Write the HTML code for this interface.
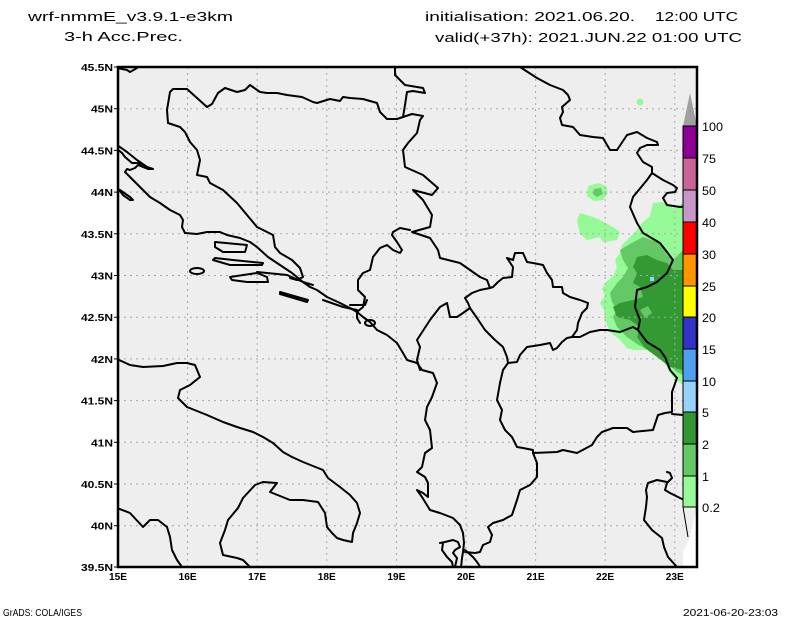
<!DOCTYPE html>
<html><head><meta charset="utf-8"><style>
html,body{margin:0;padding:0;background:#fff;}
svg{display:block;}
text{font-family:"Liberation Sans",sans-serif;fill:#000;}
</style></head><body>
<svg width="800" height="618" viewBox="0 0 800 618" xmlns="http://www.w3.org/2000/svg">
<defs><clipPath id="mc"><rect x="118" y="67" width="579" height="500"/></clipPath></defs>
<rect width="800" height="618" fill="#fff"/>
<!-- titles -->
<text x="28" y="21" font-size="13" textLength="205" lengthAdjust="spacingAndGlyphs">wrf-nmmE_v3.9.1-e3km</text>
<text x="64" y="41" font-size="13" textLength="119" lengthAdjust="spacingAndGlyphs">3-h Acc.Prec.</text>
<text x="425" y="21" font-size="13" textLength="210" lengthAdjust="spacingAndGlyphs">initialisation: 2021.06.20.</text>
<text x="655" y="21" font-size="13" textLength="83" lengthAdjust="spacingAndGlyphs">12:00 UTC</text>
<text x="435" y="42" font-size="13" textLength="307" lengthAdjust="spacingAndGlyphs">valid(+37h): 2021.JUN.22 01:00 UTC</text>

<!-- map bg -->
<rect x="118" y="67" width="579" height="500" fill="#eeeeee"/>
<g clip-path="url(#mc)">
<!-- precipitation -->
<g stroke="none">
<circle cx="640" cy="102" r="3.5" fill="#96fa96"/>
<path fill="#96fa96" d="M588,186 L598,183 L606,186 L608,193 L603,200 L594,201 L587,196 Z"/>
<path fill="#64c864" d="M594,189 L601,188 L603,194 L597,197 L593,194 Z"/>
<path fill="#96fa96" d="M577,220 L580,213 L593,217 L600,220 L613,227 L620,232 L617,240 L603,242 L600,237 L587,240 L580,234 Z"/>
<path fill="#96fa96" d="M653,203 L663,202 L673,208 L683,203 L683,385 L673,377 L667,367 L660,357 L647,350 L633,350 L627,348 L620,340 L610,332 L605,320 L604,310 L600,303 L605,296 L602,289 L606,282 L613,276 L617,268 L615,260 L620,253 L622,245 L630,237 L637,230 L643,222 L650,216 Z"/>
<path fill="#64c864" d="M620,250 L630,244 L643,237 L660,243 L667,255 L673,260 L683,250 L683,375 L677,372 L663,360 L650,351 L637,344 L627,337 L617,327 L613,317 L617,310 L612,302 L610,293 L617,283 L623,277 L628,268 L623,260 Z"/>
<path fill="#339933" d="M633,267 L637,257 L647,255 L657,260 L667,263 L673,270 L683,270 L683,370 L670,367 L657,357 L645,348 L637,337 L640,327 L630,320 L617,317 L613,307 L620,303 L633,300 L643,297 L640,287 L633,283 L637,273 Z"/>
<path fill="#64c864" d="M640,310 L648,306 L652,313 L645,318 Z"/>
<rect x="650" y="277" width="4" height="4" fill="#96d2fa"/>
</g>
<!-- grid -->
<g stroke="#a8a8a8" stroke-width="1" stroke-dasharray="2,4">
<line x1="187.6" y1="67" x2="187.6" y2="567"/>
<line x1="257.2" y1="67" x2="257.2" y2="567"/>
<line x1="326.8" y1="67" x2="326.8" y2="567"/>
<line x1="396.4" y1="67" x2="396.4" y2="567"/>
<line x1="466" y1="67" x2="466" y2="567"/>
<line x1="535.6" y1="67" x2="535.6" y2="567"/>
<line x1="605.2" y1="67" x2="605.2" y2="567"/>
<line x1="674.8" y1="67" x2="674.8" y2="567"/>
<line x1="118" y1="108.7" x2="697" y2="108.7"/>
<line x1="118" y1="150.4" x2="697" y2="150.4"/>
<line x1="118" y1="192.1" x2="697" y2="192.1"/>
<line x1="118" y1="233.8" x2="697" y2="233.8"/>
<line x1="118" y1="275.5" x2="697" y2="275.5"/>
<line x1="118" y1="317.2" x2="697" y2="317.2"/>
<line x1="118" y1="358.9" x2="697" y2="358.9"/>
<line x1="118" y1="400.6" x2="697" y2="400.6"/>
<line x1="118" y1="442.3" x2="697" y2="442.3"/>
<line x1="118" y1="484" x2="697" y2="484"/>
<line x1="118" y1="525.7" x2="697" y2="525.7"/>
</g>
<!-- borders & coasts -->
<g fill="none" stroke="#000" stroke-width="2" stroke-linejoin="round" stroke-linecap="round">
<polyline points="117,68 127,70 130,72 137,68"/>
<polyline points="168,123 167,110 170,92 173,89 187,89 197,98 207,107 212,104 218,93 225,88 237,92 245,90 250,85 260,92 267,93 277,93 287,95 302,97 313,102 317,103 330,99 340,101 343,97 350,98 363,99 377,103 380,112 387,119 397,119 403,117 412,114 423,116 420,120 417,133 408,143 403,150 405,167 423,175 438,188 432,195 413,190 423,200 432,215 430,227 412,232 430,238 438,250 440,258 460,263 470,270 480,277 487,280 490,288 480,290 472,293 465,298 468,303 470,308 463,313 457,317 450,317 447,303 440,307 430,320 417,340 420,347 417,360 420,370"/>
<polyline points="403,117 405,105 407,92 413,91 425,93 423,88 405,85 395,75 395,67"/>
<polyline points="470,308 477,318 485,330 495,340 503,347 507,357 508,363 503,370 500,383 497,400 502,410 500,420 505,430 512,437 517,447 523,448 533,450 533,453 537,463 537,477 530,485 520,490 517,500 512,515 503,520 493,523 488,527 492,535 490,542 483,545 480,552 475,553 465,552"/>
<polyline points="465,550 473,557 477,562 481,568"/>
<polyline points="490,288 493,287 498,282 503,278 512,277 513,267 507,258 513,260 515,253 523,253 527,262 533,263 543,265 547,273 552,280 553,287 562,287 563,293 570,297 580,300 588,303 587,308 582,313 578,323 577,330 572,337"/>
<polyline points="508,363 517,362 520,355 527,347 540,345 550,343 553,350 557,348 562,342 567,338 572,337 580,337 590,332 600,330 607,330 620,332 633,327 638,330"/>
<polyline points="520,67 537,78 550,85 563,90 568,95 570,100 562,107 563,112 560,118 562,125 573,127 580,135 593,137 603,138 610,150 617,150 627,135 637,132 647,138 657,142 658,145 647,145 640,148 637,153 643,162 652,167 652,173 663,180 673,185 677,188 675,192 667,193 663,198 667,205 680,207 697,205"/>
<polyline points="652,173 647,180 633,197 630,207 637,223 643,233 660,243 667,252 673,260 667,273 657,282 647,287 637,290 635,307 640,320 638,330 647,342 660,350 665,357 670,370 677,378 672,392 672,412 665,413 658,415 653,430 633,432 627,428 613,428 602,432 597,437 592,445 577,453 563,450 557,452 533,453"/>
<polyline points="672,414 683,415 693,412 697,408"/>
<polyline points="667,472 670,473 672,478 667,483 665,490 670,493 680,498 690,503 697,507"/>
<polyline points="667,482 657,480 648,483 646,490 647,497 646,507 644,520 652,530 662,538 664,547 668,557 677,567"/>
<polyline points="168,123 180,127 185,132 190,142 197,150 200,160 197,175 207,177 210,183 223,190 237,203 247,215 257,227 267,232 273,235 275,247 280,253 292,260 300,268 303,277 297,280 290,278"/>
<polyline points="410,230 400,228 393,232 392,235 397,242 402,250 400,253 393,250 387,245 380,248 373,257 370,270 363,273 358,280 358,290 365,297 363,307 357,312 357,318 360,323"/>
<polyline points="117,145 127,152 137,160 147,167 153,169 148,169 143,167 138,165 135,168 130,170 127,169 125,172 130,177 140,187 150,197 160,203 170,210 180,215 183,220 182,227 185,233 197,234 207,232 220,232 227,235 240,238 250,242 257,247 268,257 283,267 292,273 303,282 310,287 317,290 327,297 340,303 350,308 357,312 363,317 370,322 377,330 387,335 397,343 403,353 407,360 417,363 422,370 433,373 437,383 432,397 427,407 425,420 430,430 432,448 425,453 422,467 417,472 425,477 428,483 428,497 423,493 417,490 422,497 430,510 440,513 453,518 460,525 463,533 464,543 463,552 462,558 461,568"/>
<polyline points="117,149 122,153 125,157 132,163 138,163 143,165"/>
<polyline points="117,187 123,195 130,200 133,200 130,197 120,190"/>
<polygon points="215,242 247,245 245,252 223,252 215,247"/>
<polygon points="215,258 233,260 263,263 262,265 230,265 213,260"/>
<ellipse cx="197" cy="271" rx="7" ry="3"/>
<polygon points="230,277 257,273 267,277 268,282 247,282 232,280"/>
<polygon points="280,292 308,300 307,302 280,294"/>
<polyline points="257,272 287,275 303,282 313,285"/>
<ellipse cx="370" cy="323" rx="5" ry="3"/>
<polyline points="323,300 343,307 357,310"/>
<polyline points="350,305 365,305 367,300"/>
<polyline points="440,543 445,542 453,540 458,542 460,547 455,550 453,553 457,558 455,567"/>
<polyline points="443,543 442,550 447,557 452,562 453,567"/>
<polyline points="117,359 130,365 143,367 163,366 177,363 187,363 195,365 200,377 190,385 180,390 178,398 187,407 207,415 223,422 237,427 253,432 263,437 273,443 283,452 292,457 303,462 323,470 328,478 340,487 350,495 357,503 360,513 357,523 353,533 352,542 343,540 337,538 332,533 327,527 325,513 318,502 303,500 290,500 270,492 277,483 263,482 255,485 243,498 238,508 228,520 225,530 220,543 223,555 237,558 243,560 250,567"/>
<polyline points="117,508 130,513 143,527 150,520 158,520 167,527 170,537 172,550 177,560 182,567"/>
</g>
</g>
<!-- white corner under colorbar -->
<rect x="683" y="507" width="14" height="60" fill="#fff"/>
<polygon points="683,507 697,507 690,537 683,552" fill="#eeeeee"/>
<line x1="683" y1="507" x2="688" y2="537" stroke="#000" stroke-width="1"/>
<!-- colorbar -->
<polygon points="683,126 697,126 690,93" fill="#a0a0a0"/>
<g stroke="#000" stroke-width="1">
<rect x="683" y="126" width="14" height="32" fill="#8c0096"/>
<rect x="683" y="158" width="14" height="32" fill="#c86496"/>
<rect x="683" y="190" width="14" height="32" fill="#c896c8"/>
<rect x="683" y="222" width="14" height="32" fill="#ff0000"/>
<rect x="683" y="254" width="14" height="32" fill="#ff9600"/>
<rect x="683" y="286" width="14" height="31" fill="#ffff00"/>
<rect x="683" y="317" width="14" height="32" fill="#3232c8"/>
<rect x="683" y="349" width="14" height="32" fill="#50a0f0"/>
<rect x="683" y="381" width="14" height="31" fill="#96d2fa"/>
<rect x="683" y="412" width="14" height="32" fill="#329632"/>
<rect x="683" y="444" width="14" height="32" fill="#64c864"/>
<rect x="683" y="476" width="14" height="31" fill="#96fa96"/>
</g>
<!-- frame -->
<rect x="118" y="67" width="579" height="500" fill="none" stroke="#000" stroke-width="2.5"/>
<!-- y ticks -->
<g stroke="#000" stroke-width="1">
<line x1="114" y1="67" x2="118" y2="67"/><line x1="114" y1="108.7" x2="118" y2="108.7"/><line x1="114" y1="150.4" x2="118" y2="150.4"/><line x1="114" y1="192.1" x2="118" y2="192.1"/><line x1="114" y1="233.8" x2="118" y2="233.8"/><line x1="114" y1="275.5" x2="118" y2="275.5"/><line x1="114" y1="317.2" x2="118" y2="317.2"/><line x1="114" y1="358.9" x2="118" y2="358.9"/><line x1="114" y1="400.6" x2="118" y2="400.6"/><line x1="114" y1="442.3" x2="118" y2="442.3"/><line x1="114" y1="484" x2="118" y2="484"/><line x1="114" y1="525.7" x2="118" y2="525.7"/><line x1="114" y1="567" x2="118" y2="567"/>
</g>
<g font-size="10" font-weight="bold" text-anchor="end">
<text x="113" y="71" textLength="32" lengthAdjust="spacingAndGlyphs">45.5N</text>
<text x="113" y="112.7" textLength="22" lengthAdjust="spacingAndGlyphs">45N</text>
<text x="113" y="154.4" textLength="32" lengthAdjust="spacingAndGlyphs">44.5N</text>
<text x="113" y="196.1" textLength="22" lengthAdjust="spacingAndGlyphs">44N</text>
<text x="113" y="237.8" textLength="32" lengthAdjust="spacingAndGlyphs">43.5N</text>
<text x="113" y="279.5" textLength="22" lengthAdjust="spacingAndGlyphs">43N</text>
<text x="113" y="321.2" textLength="32" lengthAdjust="spacingAndGlyphs">42.5N</text>
<text x="113" y="362.9" textLength="22" lengthAdjust="spacingAndGlyphs">42N</text>
<text x="113" y="404.6" textLength="32" lengthAdjust="spacingAndGlyphs">41.5N</text>
<text x="113" y="446.3" textLength="22" lengthAdjust="spacingAndGlyphs">41N</text>
<text x="113" y="488" textLength="32" lengthAdjust="spacingAndGlyphs">40.5N</text>
<text x="113" y="529.7" textLength="22" lengthAdjust="spacingAndGlyphs">40N</text>
<text x="113" y="571" textLength="32" lengthAdjust="spacingAndGlyphs">39.5N</text>
</g>
<g font-size="10" font-weight="bold" text-anchor="middle">
<text x="118" y="580" textLength="18" lengthAdjust="spacingAndGlyphs">15E</text>
<text x="187.6" y="580" textLength="18" lengthAdjust="spacingAndGlyphs">16E</text>
<text x="257.2" y="580" textLength="18" lengthAdjust="spacingAndGlyphs">17E</text>
<text x="326.8" y="580" textLength="18" lengthAdjust="spacingAndGlyphs">18E</text>
<text x="396.4" y="580" textLength="18" lengthAdjust="spacingAndGlyphs">19E</text>
<text x="466" y="580" textLength="18" lengthAdjust="spacingAndGlyphs">20E</text>
<text x="535.6" y="580" textLength="18" lengthAdjust="spacingAndGlyphs">21E</text>
<text x="605.2" y="580" textLength="18" lengthAdjust="spacingAndGlyphs">22E</text>
<text x="674.8" y="580" textLength="18" lengthAdjust="spacingAndGlyphs">23E</text>
</g>
<!-- colorbar labels -->
<g font-size="12">
<text x="702" y="131" textLength="21" lengthAdjust="spacingAndGlyphs">100</text>
<text x="702" y="163" textLength="14" lengthAdjust="spacingAndGlyphs">75</text>
<text x="702" y="195" textLength="14" lengthAdjust="spacingAndGlyphs">50</text>
<text x="702" y="227" textLength="14" lengthAdjust="spacingAndGlyphs">40</text>
<text x="702" y="259" textLength="14" lengthAdjust="spacingAndGlyphs">30</text>
<text x="702" y="291" textLength="14" lengthAdjust="spacingAndGlyphs">25</text>
<text x="702" y="322" textLength="14" lengthAdjust="spacingAndGlyphs">20</text>
<text x="702" y="354" textLength="14" lengthAdjust="spacingAndGlyphs">15</text>
<text x="702" y="386" textLength="14" lengthAdjust="spacingAndGlyphs">10</text>
<text x="702" y="417" textLength="7" lengthAdjust="spacingAndGlyphs">5</text>
<text x="702" y="449" textLength="7" lengthAdjust="spacingAndGlyphs">2</text>
<text x="702" y="481" textLength="7" lengthAdjust="spacingAndGlyphs">1</text>
<text x="702" y="512" textLength="18" lengthAdjust="spacingAndGlyphs">0.2</text>
</g>
<text x="3" y="616" font-size="10" textLength="79" lengthAdjust="spacingAndGlyphs">GrADS: COLA/IGES</text>
<text x="683" y="616" font-size="10" textLength="95" lengthAdjust="spacingAndGlyphs">2021-06-20-23:03</text>
</svg>
</body></html>
